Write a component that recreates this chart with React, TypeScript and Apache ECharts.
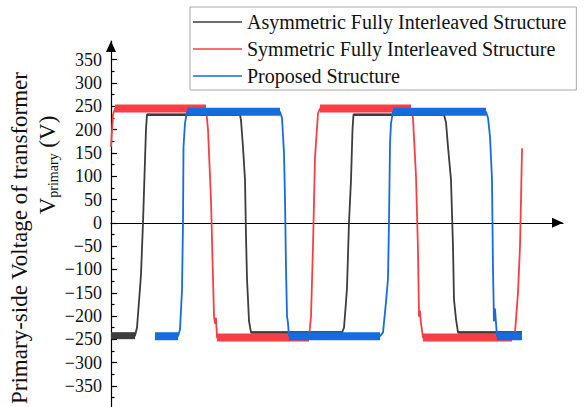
import React, { useEffect, useRef } from 'react';
import * as echarts from 'echarts';

// Waveform names, as shown in the legend
const seriesNames = [
  'Asymmetric Fully Interleaved Structure',
  'Symmetric Fully Interleaved Structure',
  'Proposed Structure',
];

// Primary-side voltage samples: [time (µs), voltage (V)]
const asymmetricWave: [number, number][] = [
  [0, -242], [0.531, -242], [0.575, -225], [0.642, -140], [0.664, -110], [0.708, 0], [0.774, 200], [0.796, 232],
  [2.854, 232], [2.876, 220], [2.92, 163], [2.965, 92], [2.987, -30], [3.009, -120], [3.053, -210], [3.097, -235],
  [5.111, -235], [5.155, -225], [5.199, -170], [5.221, -140], [5.265, 0], [5.31, 92], [5.343, 200], [5.365, 232],
  [7.367, 232], [7.412, 215], [7.456, 163], [7.522, 92], [7.566, -50], [7.588, -164], [7.633, -207], [7.677, -235],
  [9.093, -235],
];

const symmetricWave: [number, number][] = [
  [0, 163], [0.044, 232], [0.088, 245],
  [2.102, 245], [2.146, 200], [2.212, 50], [2.257, -120], [2.279, -200], [2.301, -215], [2.323, -205], [2.345, -246],
  [4.381, -246], [4.425, -200], [4.469, -50], [4.513, 140], [4.58, 235], [4.624, 245],
  [6.637, 245], [6.681, 225], [6.748, 100], [6.792, -60], [6.814, -200], [6.836, -190], [6.858, -215], [6.903, -246],
  [8.872, -246], [8.938, -235], [9.004, -150], [9.049, -50], [9.071, 50], [9.093, 160],
];

const proposedWave: [number, number][] = [
  [0.973, -243], [1.482, -243], [1.527, -229], [1.571, -143], [1.593, 0], [1.604, 163], [1.637, 214], [1.681, 238],
  [3.739, 238], [3.783, 225], [3.827, 150], [3.85, 50], [3.872, -100], [3.894, -200], [3.916, -215], [3.938, -243],
  [5.951, -243], [6.018, -235], [6.084, -170], [6.128, -120], [6.15, 0], [6.173, 170], [6.195, 214], [6.239, 238],
  [8.296, 238], [8.341, 225], [8.385, 185], [8.429, 93], [8.451, -100], [8.473, -210], [8.496, -185], [8.518, -215], [8.54, -243],
  [9.093, -243],
];

// Voltage axis ticks
const majorTicks = [-350, -300, -250, -200, -150, -100, -50, 0, 50, 100, 150, 200, 250, 300, 350];
const minorTicks = [-375, -325, -275, -225, -175, -125, -75, -25, 25, 75, 125, 175, 225, 275, 325];

const yTitle = 'Primary-side Voltage of transformer';

const FONT = 'Liberation Serif, Times New Roman, serif';
const COLORS = ['#3d3d3d', '#f63f45', '#166bde'];

type Pt = [number, number | string];

// Flat stretches of a waveform (consecutive samples at the same level)
function plateaus(wave: [number, number][]): [number, number][][] {
  const segs: [number, number][][] = [];
  for (let i = 1; i < wave.length; i++) {
    if (wave[i][1] === wave[i - 1][1]) segs.push([wave[i - 1], wave[i]]);
  }
  return segs;
}

function joinSegments(segs: [number, number][][]): Pt[] {
  const out: Pt[] = [];
  segs.forEach((s, i) => {
    if (i) out.push([s[0][0], '-']);
    out.push(s[0], s[1]);
  });
  return out;
}

function lineSeries(name: string, data: Pt[], color: string, width: number) {
  return {
    type: 'line',
    name,
    data,
    symbol: 'none',
    showSymbol: false,
    silent: true,
    connectNulls: false,
    lineStyle: { color, width, cap: 'butt', join: 'round' },
    itemStyle: { color },
  };
}

export default function App() {
  const ref = useRef<HTMLDivElement>(null);

  useEffect(() => {
    document.body.style.margin = '0';
    if (!ref.current) return;
    const chart = echarts.init(ref.current, undefined, { renderer: 'svg' });

    const waves = [asymmetricWave, symmetricWave, proposedWave];
    const series: any[] = [];
    waves.forEach((w, k) => {
      series.push(lineSeries(seriesNames[k], w, COLORS[k], 1.8));
      // measurement noise band along the flat levels
      const segs = plateaus(w);
      if (k === 0) {
        series.push(lineSeries(seriesNames[k], joinSegments(segs.slice(0, 1)), COLORS[k], 7));
        series.push(lineSeries(seriesNames[k], joinSegments(segs.slice(1)), COLORS[k], 2.5));
      } else {
        series.push(lineSeries(seriesNames[k], joinSegments(segs), COLORS[k], 8));
      }
    });

    const yRange = { min: -395, max: 390 };

    chart.setOption({
      animation: false,
      textStyle: { fontFamily: FONT, color: '#111' },
      grid: { left: 111, right: 21, top: 41, height: 368, containLabel: false },
      legend: {
        data: seriesNames.map((name, k) => ({ name, itemStyle: { color: COLORS[k] } })),
        orient: 'vertical',
        left: 190,
        top: 7,
        padding: [5, 10, 4, 3],
        itemGap: 7,
        itemWidth: 49,
        itemHeight: 1.5,
        icon: 'rect',
        borderColor: '#a8a8a8',
        borderWidth: 1,
        selectedMode: false,
        textStyle: { fontFamily: FONT, fontSize: 20, color: '#111' },
      },
      xAxis: {
        type: 'value',
        min: 0,
        max: 10,
        axisLine: {
          show: true,
          onZero: true,
          symbol: ['none', 'triangle'],
          symbolSize: [10, 11],
          symbolOffset: [0, -5.5],
          lineStyle: { color: '#000', width: 1.2 },
        },
        axisTick: { show: false },
        axisLabel: { show: false },
        splitLine: { show: false },
      },
      yAxis: [
        {
          type: 'value',
          ...yRange,
          axisLine: {
            show: true,
            onZero: false,
            symbol: ['none', 'triangle'],
            symbolSize: [10, 11],
            symbolOffset: [0, -5.5],
            lineStyle: { color: '#000', width: 1.2 },
          },
          axisTick: {
            show: true,
            inside: true,
            length: 6,
            customValues: majorTicks,
            lineStyle: { color: '#000', width: 1.2 },
          },
          axisLabel: {
            show: true,
            customValues: majorTicks,
            margin: 9,
            fontFamily: FONT,
            fontSize: 18,
            color: '#111',
            formatter: (v: number) => String(v).replace('-', '\u2212'),
          },
          splitLine: { show: false },
        },
        {
          type: 'value',
          ...yRange,
          position: 'left',
          axisLine: { show: false },
          axisTick: {
            show: true,
            inside: true,
            length: 3.5,
            customValues: minorTicks,
            lineStyle: { color: '#000', width: 1.2 },
          },
          axisLabel: { show: false },
          splitLine: { show: false },
        },
      ],
      series,
      graphic: [
        {
          type: 'text',
          x: 19,
          y: 238,
          rotation: Math.PI / 2,
          style: {
            text: yTitle,
            fontFamily: FONT,
            fontSize: 23,
            fill: '#111',
            align: 'center',
            verticalAlign: 'middle',
          },
        },
        {
          type: 'text',
          x: 47,
          y: 165,
          rotation: Math.PI / 2,
          style: {
            text: '{v|V}{s|primary}{v| (V)}',
            fontFamily: FONT,
            align: 'center',
            verticalAlign: 'middle',
            rich: {
              v: { fontFamily: FONT, fontSize: 23, lineHeight: 26, fill: '#111', verticalAlign: 'middle' },
              s: { fontFamily: FONT, fontSize: 14, lineHeight: 14, fill: '#111', verticalAlign: 'bottom' },
            },
          },
        },
      ],
    });

    return () => chart.dispose();
  }, []);

  return (
    <div
      ref={ref}
      style={{ position: 'fixed', left: 0, top: 0, width: 584, height: 407, background: '#fff' }}
    />
  );
}
